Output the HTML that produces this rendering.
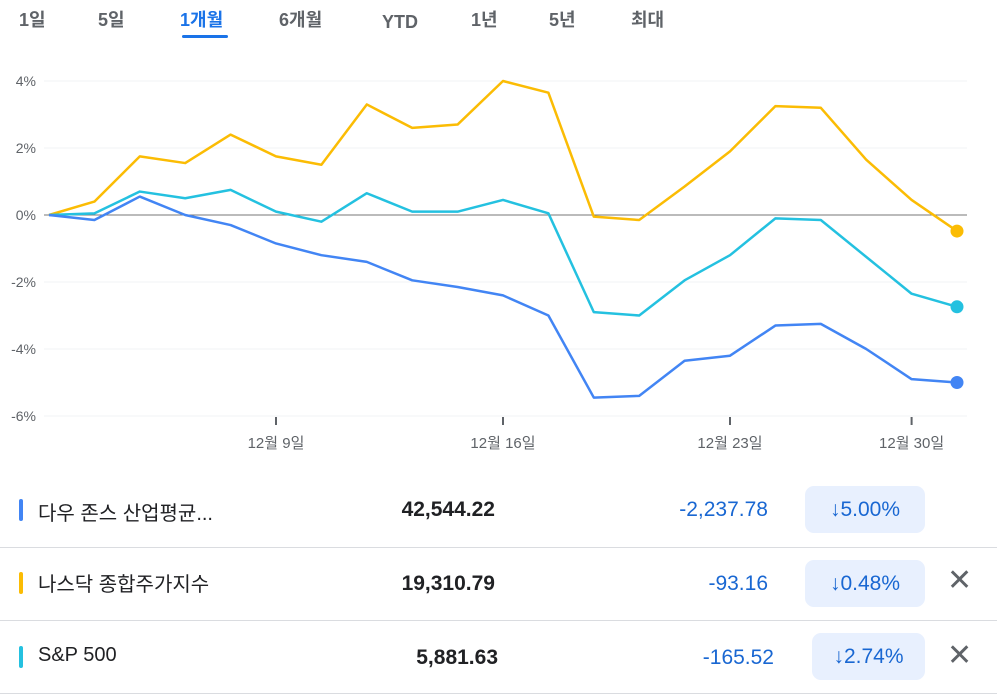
<!DOCTYPE html>
<html><head><meta charset="utf-8"><style>
body{margin:0;width:997px;height:696px;background:#fff;font-family:"Liberation Sans","Noto Sans CJK KR",sans-serif;position:relative;overflow:hidden}
.tab{position:absolute;top:8px;font-size:18px;line-height:24px;color:#5f6368;font-weight:bold}
.row{position:absolute;left:0;width:997px;height:73px;border-bottom:1px solid #dadce0}
.bar{position:absolute;left:19px;width:4px;height:22px;border-radius:2px}
.nm{position:absolute;left:38px;font-size:20px;color:#202124}
.val{position:absolute;font-size:21px;color:#202124;font-weight:bold;text-align:right}
.chg{position:absolute;font-size:21px;color:#1967d2;text-align:right}
.badge{position:absolute;background:#e8f0fe;border-radius:9px;height:47px;color:#1967d2;font-size:21px;line-height:47px;text-align:center}
.x{position:absolute;left:947px;font-size:30px;color:#5f6368}
</style></head><body>
<div>
<span class="tab" style="left:19px">1일</span>
<span class="tab" style="left:98px">5일</span>
<span class="tab" style="left:180px;color:#1a73e8">1개월</span>
<div style="position:absolute;left:182px;top:35px;width:46px;height:3px;background:#1a73e8;border-radius:2px"></div>
<span class="tab" style="left:279px">6개월</span>
<span class="tab" style="left:382px;top:10px">YTD</span>
<span class="tab" style="left:471px">1년</span>
<span class="tab" style="left:549px">5년</span>
<span class="tab" style="left:631px">최대</span>
</div>
<svg id="chart" width="997" height="470" style="position:absolute;left:0;top:0"></svg>

<div class="row" style="top:474px">
<div class="bar" style="top:25px;background:#4285f4"></div>
<div class="nm" style="top:23px">다우 존스 산업평균...</div>
<div class="val" style="right:502px;top:24px">42,544.22</div>
<div class="chg" style="right:229px;top:24px">-2,237.78</div>
<div class="badge" style="left:805px;top:12px;width:120px">↓5.00%</div>
</div>
<div class="row" style="top:547px">
<div class="bar" style="top:25px;background:#fbbc04"></div>
<div class="nm" style="top:21px">나스닥 종합주가지수</div>
<div class="val" style="right:502px;top:25px">19,310.79</div>
<div class="chg" style="right:229px;top:25px">-93.16</div>
<div class="badge" style="left:805px;top:13px;width:120px">↓0.48%</div>
<div class="x" style="top:16px">✕</div>
</div>
<div class="row" style="top:620px">
<div class="bar" style="top:26px;background:#24c1e0"></div>
<div class="nm" style="top:24px">S&amp;P 500</div>
<div class="val" style="right:499px;top:26px">5,881.63</div>
<div class="chg" style="right:223px;top:26px">-165.52</div>
<div class="badge" style="left:812px;top:13px;width:113px">↓2.74%</div>
<div class="x" style="top:18px">✕</div>
</div>
<script>
const yTicks=[4,2,0,-2,-4,-6];
const xTickIdx=[5,10,15,19];
const xTickLabels=["12월 9일","12월 16일","12월 23일","12월 30일"];
const nasdaq=[0,0.4,1.75,1.55,2.4,1.75,1.5,3.3,2.6,2.7,4.0,3.65,-0.05,-0.15,0.85,1.9,3.25,3.2,1.65,0.45,-0.48];
const dow=[0,-0.15,0.55,0,-0.3,-0.85,-1.2,-1.4,-1.95,-2.15,-2.4,-3.0,-5.45,-5.4,-4.35,-4.2,-3.3,-3.25,-4.0,-4.9,-5.0];
const sp500=[0,0.05,0.7,0.5,0.75,0.1,-0.2,0.65,0.1,0.1,0.45,0.05,-2.9,-3.0,-1.95,-1.2,-0.1,-0.15,-1.25,-2.35,-2.74];
const svg=document.getElementById('chart'),NS='http://www.w3.org/2000/svg';
const X=i=>49+i*(957-49)/20, Y=v=>215-v*33.5;
function mk(t,a){const e=document.createElementNS(NS,t);for(const k in a)e.setAttribute(k,a[k]);svg.appendChild(e);return e;}
yTicks.forEach(v=>{
 const l=mk('line',{x1:44,x2:967,y1:Y(v),y2:Y(v),stroke:v===0?'#777':'#f1f3f4','stroke-width':1});
 
 
 const t=mk('text',{x:36,y:Y(v)+5,'text-anchor':'end','font-size':14,fill:'#5f6368','font-family':'Liberation Sans'});
 t.textContent=v+'%';
 
 
});
xTickIdx.forEach((i,k)=>{
 const l=mk('line',{x1:X(i),x2:X(i),y1:417,y2:425,stroke:'#5f6368','stroke-width':2});
 
 
 const t=mk('text',{x:X(i),y:448,'text-anchor':'middle','font-size':15,fill:'#5f6368','font-family':'Liberation Sans, Noto Sans CJK KR, sans-serif'});
 t.textContent=xTickLabels[k];
 
 
});
[[nasdaq,'#fbbc04','nasdaq'],[sp500,'#24c1e0','sp500'],[dow,'#4285f4','dow']].forEach(([d,c,n])=>{
 const p=mk('polyline',{points:d.map((v,i)=>X(i)+','+Y(v)).join(' '),fill:'none',stroke:c,'stroke-width':2.5,'stroke-linejoin':'round'});
 
 
 const e=mk('circle',{cx:X(d.length-1),cy:Y(d[d.length-1]),r:6.5,fill:c});
 
 
});
</script>
</body></html>
